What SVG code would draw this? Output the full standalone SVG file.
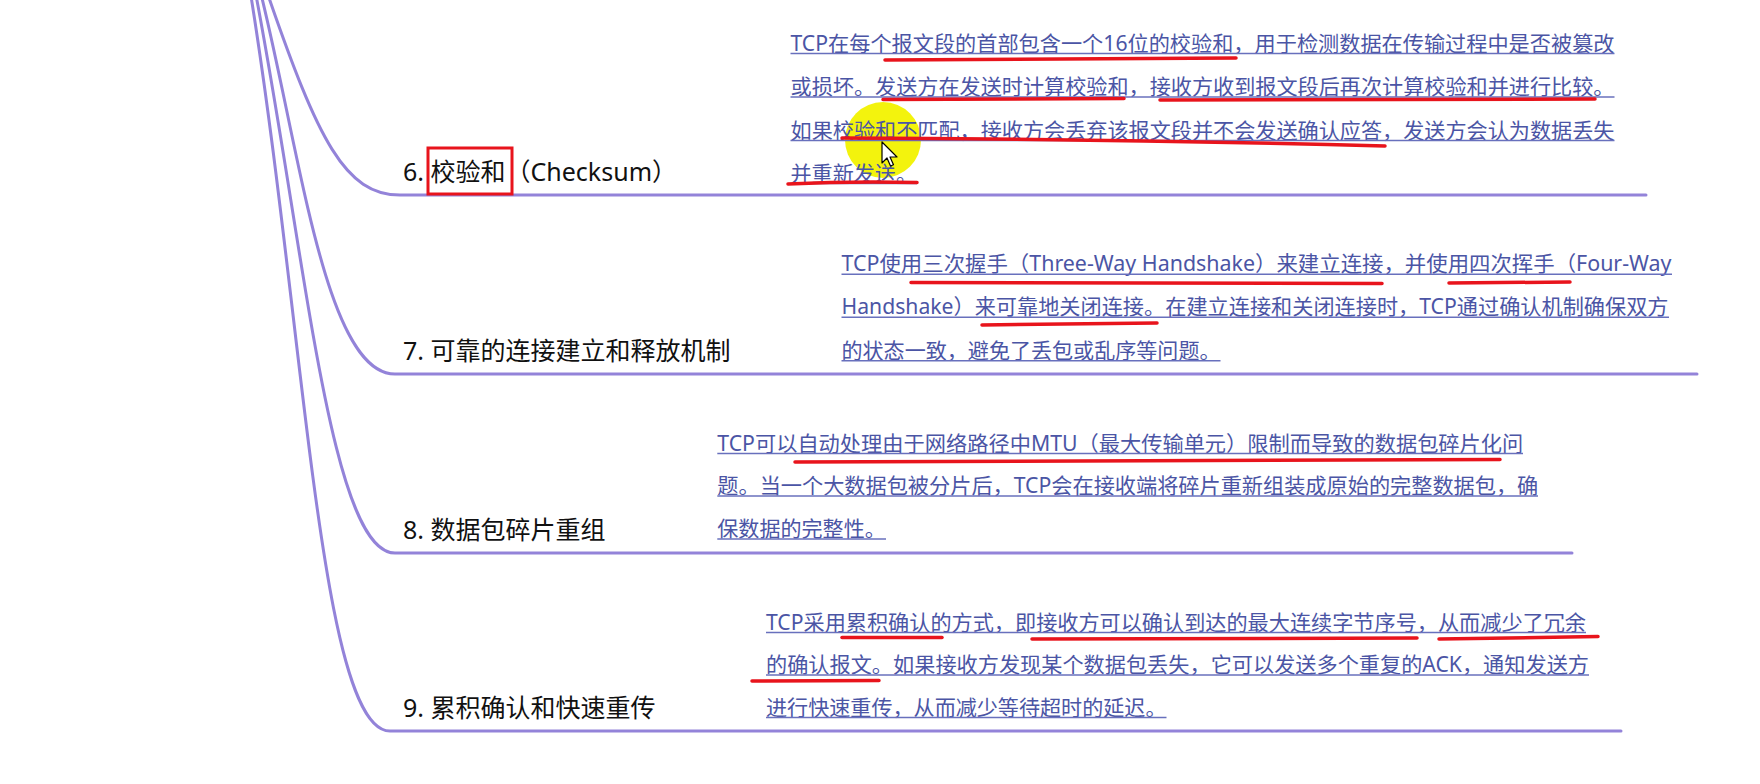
<svg xmlns="http://www.w3.org/2000/svg" width="1760" height="784" viewBox="0 0 1760 784">
<style>
.conn{fill:none;stroke:#9383d9;stroke-width:3;stroke-linecap:round}
.lbl{font-family:"Noto Sans","Noto Sans CJK SC",sans-serif;font-size:25px;fill:#111111}
.desc{font-family:"Noto Sans","Noto Sans CJK SC",sans-serif;font-size:21px;fill:#4b55a5}
.ul{stroke:#6870bd;stroke-width:1.6}
.red{fill:none;stroke:#e8141c;stroke-width:3.5;stroke-linecap:round}
.box{fill:none;stroke:#e8141c;stroke-width:3}
</style>
<rect x="0" y="0" width="1760" height="784" fill="#ffffff"/>
<g id="connectors">
<path class="conn" d="M268,-5 C318,140 345,195 400,195 H1646"/>
<path class="conn" d="M260,-10 C300,150 325,374 395,374 H1697"/>
<path class="conn" d="M255,-10 C305,250 330,553 395,553 H1572"/>
<path class="conn" d="M250,-10 C305,330 320,731 390,731 H1621"/>
</g>
<g id="node-6">
<text class="lbl" x="403" y="180.5">6. 校验和（Checksum）</text>
<rect class="box" x="428" y="148" width="84" height="46"/>
<circle cx="883" cy="140" r="38" fill="#f2f200" opacity="0.95"/>
<text class="desc" x="790.5" y="50.5" textLength="824" lengthAdjust="spacingAndGlyphs">TCP在每个报文段的首部包含一个16位的校验和，用于检测数据在传输过程中是否被篡改</text>
<text class="desc" x="790.5" y="94" textLength="824" lengthAdjust="spacingAndGlyphs">或损坏。发送方在发送时计算校验和，接收方收到报文段后再次计算校验和并进行比较。</text>
<text class="desc" x="790.5" y="137.5" textLength="824" lengthAdjust="spacingAndGlyphs">如果校验和不匹配，接收方会丢弃该报文段并不会发送确认应答，发送方会认为数据丢失</text>
<text class="desc" x="790.5" y="180.5" textLength="126.5" lengthAdjust="spacingAndGlyphs">并重新发送。</text>
<line class="ul" x1="790.5" y1="53.5" x2="1614.5" y2="53.5"/>
<line class="ul" x1="790.5" y1="97" x2="1614.5" y2="97"/>
<line class="ul" x1="790.5" y1="140.5" x2="1614.5" y2="140.5"/>
<line class="ul" x1="790.5" y1="183.5" x2="917" y2="183.5"/>
<path class="red" d="M885,60 L1236,58"/>
<path class="red" d="M883,99.5 L1124,98.5"/>
<path class="red" d="M1160,100 L1595,99"/>
<path class="red" d="M842,138 Q1110,139 1385,146"/>
<path class="red" d="M788,184 Q850,181 917,182.5"/>
<path d="M882,142 L882,163 L887,158 L890.5,166 L893.5,164.8 L890,157 L897,157 Z" fill="#ffffff" stroke="#000000" stroke-width="1.2" stroke-linejoin="round"/>
</g>
<g id="node-7">
<text class="lbl" x="403" y="360">7. 可靠的连接建立和释放机制</text>
<text class="desc" x="841.5" y="271.3" textLength="830" lengthAdjust="spacingAndGlyphs">TCP使用三次握手（Three-Way Handshake）来建立连接，并使用四次挥手（Four-Way</text>
<text class="desc" x="841.5" y="314.3" textLength="827" lengthAdjust="spacingAndGlyphs">Handshake）来可靠地关闭连接。在建立连接和关闭连接时，TCP通过确认机制确保双方</text>
<text class="desc" x="841.5" y="357.7" textLength="379" lengthAdjust="spacingAndGlyphs">的状态一致，避免了丢包或乱序等问题。</text>
<line class="ul" x1="841.5" y1="274.3" x2="1672" y2="274.3"/>
<line class="ul" x1="841.5" y1="317.3" x2="1669" y2="317.3"/>
<line class="ul" x1="841.5" y1="360.7" x2="1220.5" y2="360.7"/>
<path class="red" d="M911,282.5 L1382,283.5"/>
<path class="red" d="M1449,283 L1570,282"/>
<path class="red" d="M982,325 L1157,323"/>
</g>
<g id="node-8">
<text class="lbl" x="403" y="538.5">8. 数据包碎片重组</text>
<text class="desc" x="717.3" y="450.5" textLength="806" lengthAdjust="spacingAndGlyphs">TCP可以自动处理由于网络路径中MTU（最大传输单元）限制而导致的数据包碎片化问</text>
<text class="desc" x="717.3" y="493" textLength="821" lengthAdjust="spacingAndGlyphs">题。当一个大数据包被分片后，TCP会在接收端将碎片重新组装成原始的完整数据包，确</text>
<text class="desc" x="717.3" y="536" textLength="168.5" lengthAdjust="spacingAndGlyphs">保数据的完整性。</text>
<line class="ul" x1="717.3" y1="453.5" x2="1523" y2="453.5"/>
<line class="ul" x1="717.3" y1="496" x2="1538" y2="496"/>
<line class="ul" x1="717.3" y1="539" x2="886" y2="539"/>
<path class="red" d="M795,462 L1500,459.5"/>
</g>
<g id="node-9">
<text class="lbl" x="403" y="716.5">9. 累积确认和快速重传</text>
<text class="desc" x="766" y="629.5" textLength="820" lengthAdjust="spacingAndGlyphs">TCP采用累积确认的方式，即接收方可以确认到达的最大连续字节序号，从而减少了冗余</text>
<text class="desc" x="766" y="672" textLength="823" lengthAdjust="spacingAndGlyphs">的确认报文。如果接收方发现某个数据包丢失，它可以发送多个重复的ACK，通知发送方</text>
<text class="desc" x="766" y="714.5" textLength="400.5" lengthAdjust="spacingAndGlyphs">进行快速重传，从而减少等待超时的延迟。</text>
<line class="ul" x1="766" y1="632.5" x2="1586" y2="632.5"/>
<line class="ul" x1="766" y1="675" x2="1589" y2="675"/>
<line class="ul" x1="766" y1="717.5" x2="1166.5" y2="717.5"/>
<path class="red" d="M842,637.5 L942,637.5"/>
<path class="red" d="M1032,639 L1417,638"/>
<path class="red" d="M1439,639 L1598,636.5"/>
<path class="red" d="M752,681 L879,680.5"/>
</g>
</svg>
